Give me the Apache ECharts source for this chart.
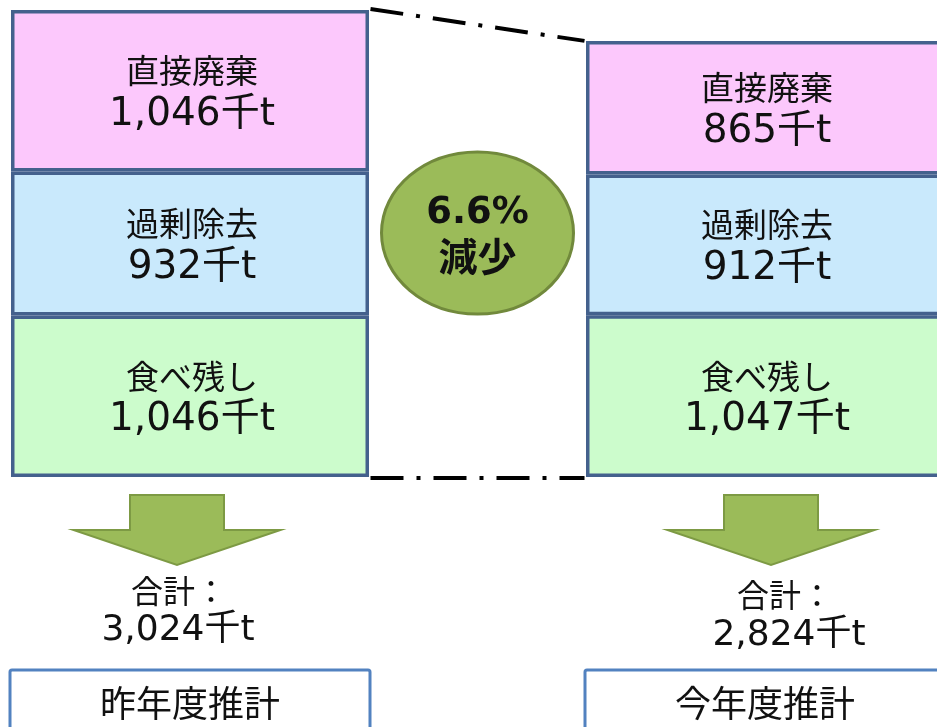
<!DOCTYPE html>
<html>
<head>
<meta charset="utf-8">
<script src="https://cdn.jsdelivr.net/npm/echarts@6/dist/echarts.min.js"></script>
<style>
  html, body { margin: 0; padding: 0; background: #ffffff; }
  #chart { width: 937px; height: 727px; }
</style>
</head>
<body>
<div id="chart"></div>
<script>
// Food-loss estimate by type, previous vs current year (thousand tonnes)
const years = ['昨年度推計', '今年度推計'];
const kindNames = ['食べ残し', '過剰除去', '直接廃棄'];
const leftovers = [1046, 1047];
const excessTrimming = [932, 912];
const directDisposal = [1046, 865];
const unit = '千t';

const totals = years.map((_, i) => leftovers[i] + excessTrimming[i] + directDisposal[i]);
const dropPct = ((totals[0] - totals[1]) / totals[0] * 100).toFixed(1);

const CJK = '"Noto Sans CJK JP", "Noto Sans CJK SC", sans-serif';
const NUM = '"DejaVu Sans", "Noto Sans CJK JP", sans-serif';
const BAR_W = 358;
const fmt = v => v.toLocaleString('en-US');

const chart = echarts.init(document.getElementById('chart'), null, { renderer: 'canvas' });

function stackSeries(name, values, color) {
  return {
    name: name,
    type: 'bar',
    stack: 'total',
    barWidth: BAR_W,
    data: values,
    itemStyle: { color: color, borderColor: '#44618d', borderWidth: 3.5 },
    label: {
      show: true,
      position: 'inside',
      offset: [2, 3],
      formatter: p => '{n|' + name + '}\n{v|' + fmt(p.value) + unit + '}',
      rich: {
        n: { fontFamily: CJK, fontSize: 33, lineHeight: 42, color: '#111111', align: 'center' },
        v: { fontFamily: NUM, fontSize: 39, lineHeight: 46, color: '#111111', align: 'center' }
      }
    },
    emphasis: { disabled: true },
    silent: true
  };
}

chart.setOption({
  animation: false,
  backgroundColor: '#ffffff',
  grid: { left: -97.5, right: -115.5, top: 10, bottom: 250, containLabel: false, outerBoundsMode: 'none' },
  xAxis: {
    type: 'category',
    data: years,
    show: false
  },
  yAxis: {
    type: 'value',
    min: 0,
    max: totals[0],
    show: false,
    splitLine: { show: false }
  },
  series: [
    stackSeries(kindNames[0], leftovers, '#ccfccc'),
    stackSeries(kindNames[1], excessTrimming, '#c9e9fc'),
    stackSeries(kindNames[2], directDisposal, '#fcc8fc')
  ]
});

// Decorations placed from the axes' own pixel mapping
const px = (i, v) => chart.convertToPixel({ gridIndex: 0 }, [i, v]);
const topL = px(0, totals[0]);
const topR = px(1, totals[1]);
const base = px(0, 0)[1];
const cxL = topL[0], cxR = topR[0];
const leftEdgeR = cxR - BAR_W / 2 - 1.5;
const rightEdgeL = cxL + BAR_W / 2 + 1.5;

const dash = { stroke: '#000000', lineWidth: 4, lineDash: [33, 13, 4, 13], lineCap: 'butt' };

function arrow(cx) {
  const sw = 47, hw = 103.5, y0 = 495, y1 = 530, y2 = 565;
  return {
    type: 'polygon',
    shape: { points: [[cx - sw, y0], [cx + sw, y0], [cx + sw, y1], [cx + hw, y1], [cx, y2], [cx - hw, y1], [cx - sw, y1]] },
    style: { fill: '#9bbb59', stroke: '#7d9a44', lineWidth: 2 },
    silent: true
  };
}

function text(str, x, y, font, weight) {
  return {
    type: 'text',
    silent: true,
    z: 20,
    style: {
      text: str, x: x, y: y,
      font: (weight || 'normal') + ' ' + font,
      fill: '#111111',
      align: 'center', verticalAlign: 'middle',
      textAlign: 'center', textVerticalAlign: 'middle'
    }
  };
}

function box(cx) {
  return {
    type: 'rect',
    shape: { x: cx - 180, y: 670, width: 360, height: 80, r: 2 },
    style: { fill: '#ffffff', stroke: '#5282c0', lineWidth: 3 },
    silent: true
  };
}

const midX = (rightEdgeL + leftEdgeR) / 2;
const arrowL = cxL - 13, arrowR = cxR + 6;

chart.setOption({
  graphic: [
    { type: 'line', z: 15, silent: true, shape: { x1: rightEdgeL, y1: topL[1] - 1, x2: leftEdgeR, y2: topR[1] }, style: dash },
    { type: 'line', z: 15, silent: true, shape: { x1: rightEdgeL, y1: base + 1, x2: leftEdgeR, y2: base + 1 }, style: dash },
    {
      type: 'ellipse', z: 10, silent: true,
      shape: { cx: midX, cy: 233, rx: 96, ry: 81 },
      style: { fill: '#9bbb59', stroke: '#71893c', lineWidth: 3 }
    },
    text(dropPct + '%', midX, 213, '37px "DejaVu Sans", sans-serif', 'bold'),
    text('減少', midX, 256, '39px ' + CJK, 'bold'),
    arrow(arrowL),
    arrow(arrowR),
    text('合計：', arrowL + 2, 591, '32px ' + CJK),
    text(fmt(totals[0]) + unit, arrowL + 1, 631, '36px ' + NUM),
    text('合計：', arrowR + 14, 595, '32px ' + CJK),
    text(fmt(totals[1]) + unit, arrowR + 18, 636, '36px ' + NUM),
    box(cxL),
    box(cxR),
    text(years[0], cxL, 703, '36px ' + CJK),
    text(years[1], cxR, 703, '36px ' + CJK)
  ]
});
</script>
</body>
</html>
